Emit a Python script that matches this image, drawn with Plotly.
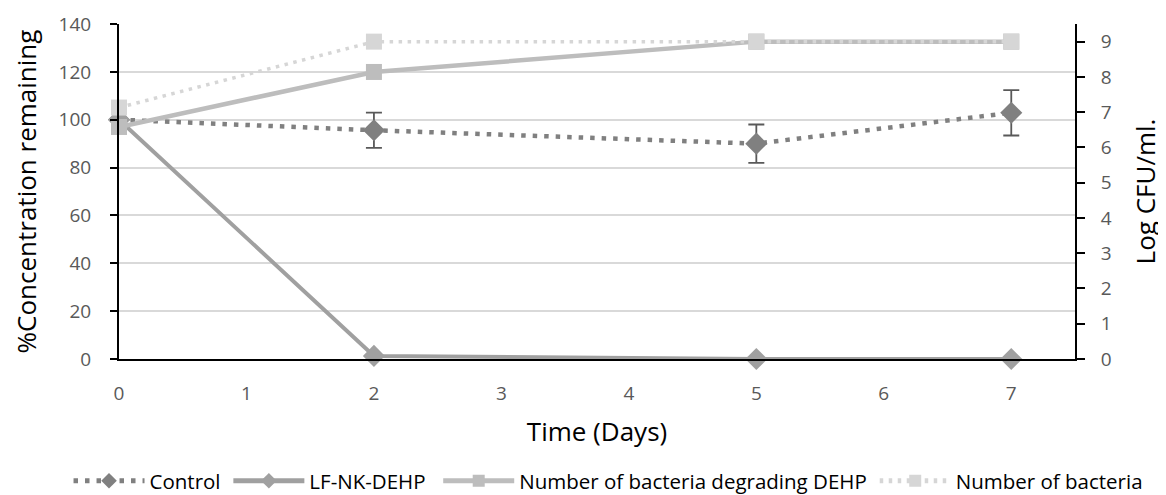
import plotly.graph_objects as go

days = [0, 2, 5, 7]
control = [100, 95.6, 90.0, 102.9]
control_err = [0, 7.4, 8.0, 9.5]
lf_nk_dehp = [100, 1.3, 0, 0]
bact_degrading = [6.58, 8.14, 9.0, 9.0]
bact_total = [7.13, 9.0, 9.0, 9.0]

x_ticks = [0, 1, 2, 3, 4, 5, 6, 7]
y_ticks = [0, 20, 40, 60, 80, 100, 120, 140]
y2_ticks = [0, 1, 2, 3, 4, 5, 6, 7, 8, 9]

FONT = "Open Sans"

fig = go.Figure()
fig.add_trace(go.Scatter(
    x=days, y=control, name="Control", mode="lines+markers", legend="legend",
    line=dict(color="#808080", width=4.5, dash="4.5px,7px"),
    marker=dict(symbol="diamond", size=17, color="#808080"),
    error_y=dict(type="data", array=control_err, visible=True,
                 color="#595959", thickness=1.8, width=8),
    cliponaxis=False,
))
fig.add_trace(go.Scatter(
    x=days, y=lf_nk_dehp, name="LF-NK-DEHP", mode="lines+markers", legend="legend2",
    line=dict(color="#a0a0a0", width=4),
    marker=dict(symbol="diamond", size=17, color="#a0a0a0"),
    cliponaxis=False,
))
fig.add_trace(go.Scatter(
    x=days, y=bact_degrading, name="Number of bacteria degrading DEHP",
    mode="lines+markers", yaxis="y2", legend="legend3",
    line=dict(color="#bdbdbd", width=4.5),
    marker=dict(symbol="square", size=16, color="#bdbdbd"),
    cliponaxis=False,
))
fig.add_trace(go.Scatter(
    x=days, y=bact_total, name="Number of bacteria",
    mode="lines+markers", yaxis="y2", legend="legend4",
    line=dict(color="#d6d6d6", width=3.5, dash="3.5px,5.5px"),
    marker=dict(symbol="square", size=16, color="#d6d6d6"),
    cliponaxis=False,
))


def leg(xpos):
    return dict(
        orientation="h", xref="paper", x=xpos, xanchor="left",
        yref="paper", y=-0.364, yanchor="middle",
        font=dict(size=20.5, color="black", family=FONT), itemwidth=71,
        itemsizing="constant", bgcolor="rgba(0,0,0,0)",
    )


fig.update_layout(
    width=1158, height=487,
    margin=dict(l=110.5, r=91, t=16, b=136, autoexpand=False),
    paper_bgcolor="white", plot_bgcolor="white",
    font=dict(family=FONT, color="#595959", size=19),
    xaxis=dict(
        range=[0, 7.5], tickvals=x_ticks, ticktext=[str(v) for v in x_ticks],
        showgrid=False, zeroline=False,
        showline=True, linecolor="black", linewidth=2,
        ticks="outside", ticklen=0, ticklabelstandoff=16,
        tickfont=dict(size=19, color="#595959"),
        title=dict(text="Time (Days)", font=dict(size=26, color="black"), standoff=18),
    ),
    yaxis=dict(
        range=[0, 140], tickvals=y_ticks, ticktext=[str(v) for v in y_ticks],
        showgrid=True, gridcolor="#d9d9d9", gridwidth=1.5,
        zeroline=False,
        showline=True, linecolor="black", linewidth=2,
        ticks="outside", ticklen=7, tickwidth=2, tickcolor="black",
        ticklabelstandoff=15,
        tickfont=dict(size=19, color="#595959"),
        title=dict(text="%Concentration remaining", font=dict(size=26, color="black"), standoff=31),
    ),
    yaxis2=dict(
        range=[0, 9.5], tickvals=y2_ticks, ticktext=[str(v) for v in y2_ticks],
        overlaying="y", side="right",
        showgrid=False, zeroline=False,
        showline=True, linecolor="black", linewidth=2,
        ticks="outside", ticklen=8, tickwidth=2, tickcolor="black",
        ticklabelstandoff=12,
        tickfont=dict(size=19, color="#595959"),
        title=dict(text="Log CFU/ml.", font=dict(size=26, color="black"), standoff=26),
    ),
    legend=leg(-0.0528),
    legend2=leg(0.1144),
    legend3=leg(0.3339),
    legend4=leg(0.7905),
    showlegend=True,
)

fig.write_html("out.html")
